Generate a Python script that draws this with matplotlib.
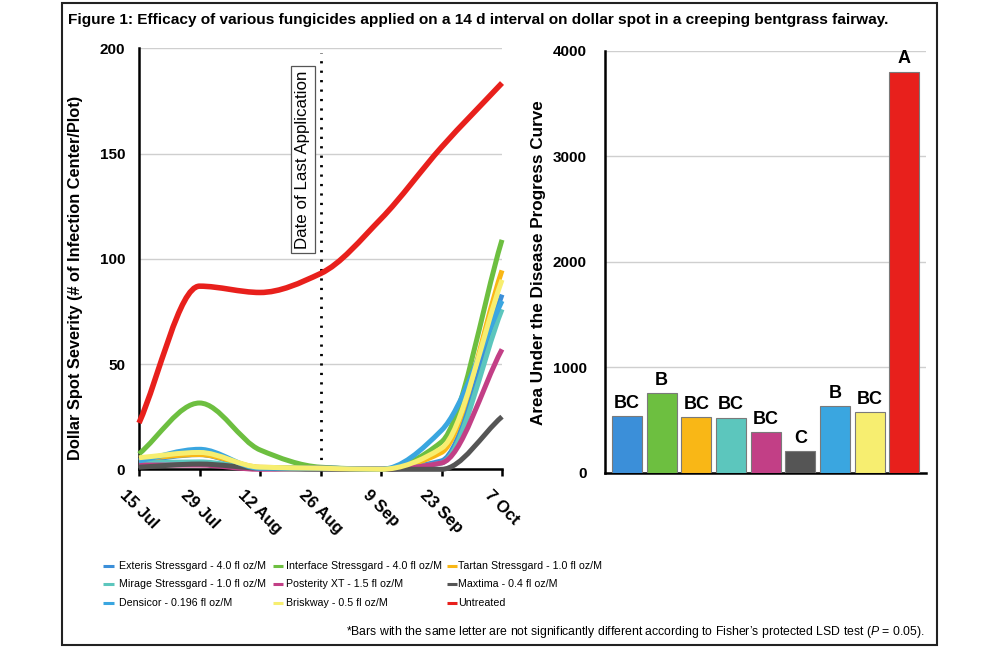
import matplotlib
matplotlib.use("Agg")
import matplotlib.pyplot as plt
import numpy as np
from matplotlib.path import Path
from matplotlib.patches import PathPatch, Rectangle
from matplotlib.lines import Line2D

plt.rcParams['font.family'] = ['Liberation Sans', 'DejaVu Sans']
plt.rcParams['mathtext.fontset'] = 'custom'
plt.rcParams['mathtext.rm'] = 'Liberation Sans'
plt.rcParams['mathtext.it'] = 'Liberation Sans:italic'

# ---------------- data ----------------
dates = ["15 Jul", "29 Jul", "12 Aug", "26 Aug", "9 Sep", "23 Sep", "7 Oct"]
days = [0, 14, 28, 42, 56, 70, 84]

treatments = [
    "Exteris Stressgard - 4.0 fl oz/M",
    "Interface Stressgard - 4.0 fl oz/M",
    "Tartan Stressgard - 1.0 fl oz/M",
    "Mirage Stressgard - 1.0 fl oz/M",
    "Posterity XT - 1.5 fl oz/M",
    "Maxtima - 0.4 fl oz/M",
    "Densicor - 0.196 fl oz/M",
    "Briskway - 0.5 fl oz/M",
    "Untreated",
]
colors = ["#3b8fd9", "#6dbf40", "#f9b716", "#5cc6bd", "#c23f86",
          "#555555", "#3aa6e0", "#f7ee70", "#e8201c"]

exteris = [4, 7, 0.5, 0.5, 0, 4, 83]
interface = [7.3, 31.5, 9.2, 1, 0, 13, 109]
tartan = [5, 7, 1, 0.5, 0, 8, 94.5]
mirage = [3, 3.5, 0.5, 0.5, 0, 3, 76]
posterity = [2, 2, 0, 0.5, 0, 3, 57]
maxtima = [1, 2.5, 0.5, 0, 0, 0, 25]
densicor = [4, 9.5, 0.5, 0.5, 0, 18.5, 80]
briskway = [5.5, 8, 1, 0.5, 0, 10, 90]
untreated = [22, 87, 84, 93, 119, 153, 183.5]
series = [exteris, interface, tartan, mirage, posterity, maxtima,
          densicor, briskway, untreated]

audpc = [534, 756, 528, 522, 386, 206, 633, 576, 3805]
letters = ["BC", "B", "BC", "BC", "BC", "C", "B", "BC", "A"]

last_app_day = 42

# ---------------- figure ----------------
W, H = 1000, 649
fig = plt.figure(figsize=(W / 100, H / 100), dpi=100)

def fx(px):
    return px / W

def fy(py):
    return 1 - py / H

# outer frame
fig.add_artist(Rectangle((fx(62), fy(645)), fx(937) - fx(62), fy(3) - fy(645),
                         transform=fig.transFigure, fill=False,
                         edgecolor="#222222", lw=1.5))

fig.text(fx(68), fy(20), "Figure 1: Efficacy of various fungicides applied on a 14 d "
         "interval on dollar spot in a creeping bentgrass fairway.",
         fontsize=11.1, fontweight="bold", va="center", ha="left")

# ---------------- left line chart ----------------
axL = fig.add_axes([fx(139), fy(469.3), fx(502) - fx(139), fy(48.3) - fy(469.3)])
axL.set_xlim(0, 84)
axL.set_ylim(0, 200)


def smooth_path(xs, ys):
    """Monotone (Fritsch-Carlson) cubic drawn as Bezier segments."""
    x = np.asarray(xs, float)
    y = np.asarray(ys, float)
    h = np.diff(x)
    d = np.diff(y) / h
    n = len(x)
    m = np.zeros(n)
    m[0] = d[0]
    m[-1] = d[-1]
    for i in range(1, n - 1):
        if d[i - 1] * d[i] <= 0:
            m[i] = 0.0
        else:
            m[i] = 2.0 / (1.0 / d[i - 1] + 1.0 / d[i])
    verts = [(x[0], y[0])]
    codes = [Path.MOVETO]
    for i in range(n - 1):
        verts += [(x[i] + h[i] / 3, y[i] + m[i] * h[i] / 3),
                  (x[i + 1] - h[i] / 3, y[i + 1] - m[i + 1] * h[i] / 3),
                  (x[i + 1], y[i + 1])]
        codes += [Path.CURVE4] * 3
    return Path(verts, codes)


for vals, col in zip(series, colors):
    lw = 4.0 if col == "#e8201c" else 3.6
    patch = PathPatch(smooth_path(days, vals), fill=False, edgecolor=col,
                      lw=lw, capstyle="butt", joinstyle="round", clip_on=False,
                      zorder=3)
    axL.add_patch(patch)

axL.set_yticks([0, 50, 100, 150, 200])
axL.set_xticks(days)
axL.set_xticklabels(dates, rotation=-45, ha="center", fontsize=12,
                    fontweight="bold")
for lab in axL.get_yticklabels():
    lab.set_fontweight("bold")
    lab.set_fontsize(11)
axL.tick_params(axis="y", length=0, pad=10)
axL.tick_params(axis="x", length=5, width=1.8, direction="out", pad=8)
axL.grid(axis="y", color="#cfcfcf", lw=1)
axL.set_axisbelow(True)
for s in ["top", "right"]:
    axL.spines[s].set_visible(False)
axL.spines["left"].set_linewidth(1.8)
axL.spines["bottom"].set_linewidth(1.8)

axL.axvline(last_app_day, ymin=0, ymax=0.99, color="black", lw=2,
            linestyle=(0, (0.8, 2.6)), zorder=2)
axL.text(37.9, 147, "Date of Last Application", rotation=90, fontsize=12.2,
         ha="center", va="center",
         bbox=dict(boxstyle="square,pad=0.25", facecolor="white",
                   edgecolor="#555555", lw=0.9), zorder=4)

fig.text(fx(76), fy(278), "Dollar Spot Severity (# of Infection Center/Plot)",
         rotation=90, fontsize=11.8, fontweight="bold", ha="center", va="center")

# ---------------- right bar chart ----------------
axR = fig.add_axes([fx(605), fy(472.7), fx(926) - fx(605), fy(51) - fy(472.7)])
xb = np.arange(len(audpc))
axR.bar(xb, audpc, width=0.865, color=colors, edgecolor="#7a7a7a", lw=0.8,
        zorder=3)
axR.set_xlim(-0.634, 8.62)
axR.set_ylim(0, 4000)
axR.set_yticks([0, 1000, 2000, 3000, 4000])
for lab in axR.get_yticklabels():
    lab.set_fontweight("bold")
    lab.set_fontsize(11)
axR.set_xticks([])
axR.tick_params(axis="y", length=0, pad=13)
axR.grid(axis="y", color="#cfcfcf", lw=1)
axR.set_axisbelow(True)
for s in ["top", "right"]:
    axR.spines[s].set_visible(False)
axR.spines["left"].set_linewidth(1.8)
axR.spines["bottom"].set_linewidth(1.8)
for x, v, t in zip(xb, audpc, letters):
    axR.text(x, v + 40, t, ha="center", va="bottom", fontsize=13,
             fontweight="bold", zorder=4)

fig.text(fx(538), fy(263), "Area Under the Disease Progress Curve",
         rotation=90, fontsize=12.3, fontweight="bold", ha="center", va="center")

# ---------------- legend ----------------
col_dash = [(103, 114), (273, 283), (447, 457)]
col_text = [119, 286, 458]
row_y = [566, 584, 603]
for i, (name, col) in enumerate(zip(treatments, colors)):
    r, c = divmod(i, 3)
    x0, x1 = col_dash[c]
    fig.add_artist(Line2D([fx(x0), fx(x1)], [fy(row_y[r]), fy(row_y[r])],
                          transform=fig.transFigure, color=col, lw=2.2,
                          solid_capstyle="butt"))
    fig.text(fx(col_text[c]), fy(row_y[r]), name, fontsize=7.7,
             ha="left", va="center")

fig.text(fx(925), fy(632), "*Bars with the same letter are not significantly "
         "different according to Fisher\u2019s protected LSD test ($\\it{P}$ = 0.05).",
         fontsize=8.8, ha="right", va="center")

fig.savefig("out.png", dpi=100)
